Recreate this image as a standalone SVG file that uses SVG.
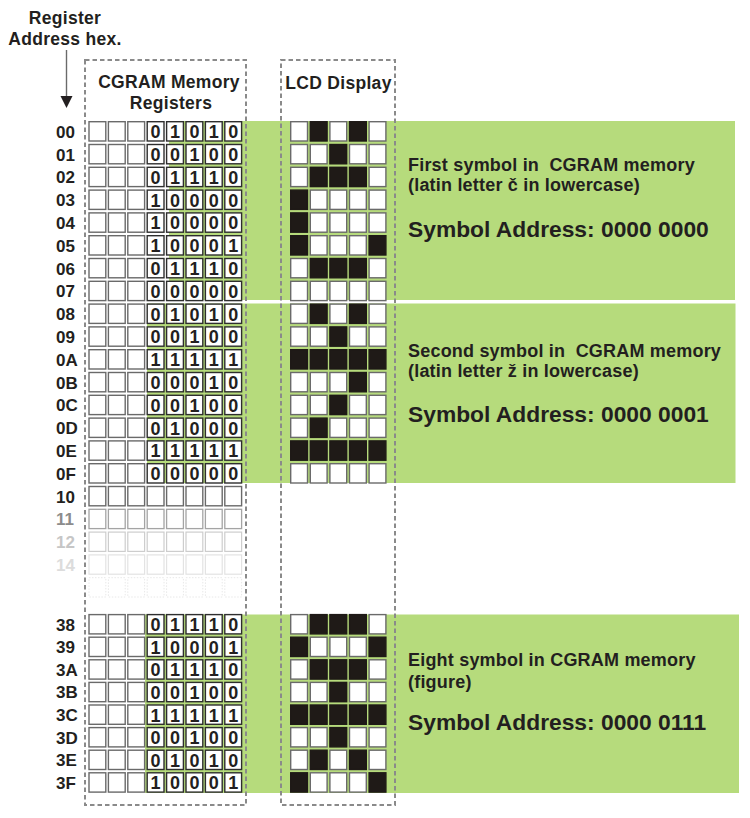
<svg xmlns="http://www.w3.org/2000/svg" width="750" height="818" viewBox="0 0 750 818">
<style>
text{font-family:"Liberation Sans",Arial,sans-serif;font-weight:bold;fill:#231f20}
.lb{font-size:17px}
.bit{font-size:18px;text-anchor:middle}
.hd{font-size:17.5px;text-anchor:middle;letter-spacing:0.3px}
.t1{font-size:18px;letter-spacing:0.2px}
.t2{font-size:22.8px}
.band{fill:#b6db7c}
.frame{fill:none;stroke:#8a8a8a;stroke-width:2;stroke-dasharray:4.5 3}
.e{fill:#fff;stroke:#6a6a6a;stroke-width:1.4}
.d{fill:#fff;stroke:#2e2e2e;stroke-width:1.4}
.w{fill:#fff;stroke:#6a6a6a;stroke-width:1.4}
.b{fill:#1f1a17;stroke:#1f1a17;stroke-width:1.4}
.f1{fill:#fff;stroke:#a4a4a4;stroke-width:1.3}
.f2{fill:#fff;stroke:#cdcdcd;stroke-width:1.2}
.f3{fill:#fff;stroke:#e3e3e3;stroke-width:1.2}
.f4{fill:none;stroke:#e8e8e8;stroke-width:1;stroke-dasharray:1.5 1.5}
</style>
<defs>
<rect id="c" width="16.8" height="19.3"/>
<g id="c3"><use href="#c" x="89"/><use href="#c" x="108.4"/><use href="#c" x="127.8"/></g>
<g id="c5"><use href="#c" x="147.2"/><use href="#c" x="166.6"/><use href="#c" x="186"/><use href="#c" x="205.4"/><use href="#c" x="224.8"/></g>
</defs>

<g id="bands">
<rect class="band" x="169" y="121" width="566" height="179"/>
<rect class="band" x="147" y="303.5" width="588.5" height="179.5"/>
<rect class="band" x="145" y="614.5" width="594" height="178.5"/>
</g>

<g id="frames">
<rect id="cgram-frame" class="frame" x="85" y="60" width="161" height="745"/>
<rect id="lcd-frame" class="frame" x="281" y="60" width="114" height="745"/>
</g>

<g id="headers">
<text class="hd" x="65" y="24">Register</text>
<text class="hd" x="65" y="45">Address hex.</text>
<text class="hd" x="169" y="88">CGRAM Memory</text>
<text class="hd" x="171" y="109">Registers</text>
<text class="hd" x="338.5" y="89">LCD Display</text>
</g>

<g id="connectors">
<line x1="66.5" y1="50" x2="66.5" y2="97" stroke="#6a6a6a" stroke-width="1.4"/>
<polygon points="60.5,96 72.5,96 66.5,108" fill="#231f20"/>
</g>

<g id="row-00" transform="translate(0,121.7)"><text class="lb" x="56" y="16">00</text><use href="#c3" class="e"/><use href="#c5" class="d"/><text class="bit" x="155.6 175 194.4 213.8 233.2" y="16.5">01010</text><use href="#c" class="w" x="290.7"/><use href="#c" class="b" x="310.3"/><use href="#c" class="w" x="329.9"/><use href="#c" class="b" x="349.5"/><use href="#c" class="w" x="369.1"/></g>
<g id="row-01" transform="translate(0,144.5)"><text class="lb" x="56" y="16">01</text><use href="#c3" class="e"/><use href="#c5" class="d"/><text class="bit" x="155.6 175 194.4 213.8 233.2" y="16.5">00100</text><use href="#c" class="w" x="290.7"/><use href="#c" class="w" x="310.3"/><use href="#c" class="b" x="329.9"/><use href="#c" class="w" x="349.5"/><use href="#c" class="w" x="369.1"/></g>
<g id="row-02" transform="translate(0,167.3)"><text class="lb" x="56" y="16">02</text><use href="#c3" class="e"/><use href="#c5" class="d"/><text class="bit" x="155.6 175 194.4 213.8 233.2" y="16.5">01110</text><use href="#c" class="w" x="290.7"/><use href="#c" class="b" x="310.3"/><use href="#c" class="b" x="329.9"/><use href="#c" class="b" x="349.5"/><use href="#c" class="w" x="369.1"/></g>
<g id="row-03" transform="translate(0,190.1)"><text class="lb" x="56" y="16">03</text><use href="#c3" class="e"/><use href="#c5" class="d"/><text class="bit" x="155.6 175 194.4 213.8 233.2" y="16.5">10000</text><use href="#c" class="b" x="290.7"/><use href="#c" class="w" x="310.3"/><use href="#c" class="w" x="329.9"/><use href="#c" class="w" x="349.5"/><use href="#c" class="w" x="369.1"/></g>
<g id="row-04" transform="translate(0,212.9)"><text class="lb" x="56" y="16">04</text><use href="#c3" class="e"/><use href="#c5" class="d"/><text class="bit" x="155.6 175 194.4 213.8 233.2" y="16.5">10000</text><use href="#c" class="b" x="290.7"/><use href="#c" class="w" x="310.3"/><use href="#c" class="w" x="329.9"/><use href="#c" class="w" x="349.5"/><use href="#c" class="w" x="369.1"/></g>
<g id="row-05" transform="translate(0,235.7)"><text class="lb" x="56" y="16">05</text><use href="#c3" class="e"/><use href="#c5" class="d"/><text class="bit" x="155.6 175 194.4 213.8 233.2" y="16.5">10001</text><use href="#c" class="b" x="290.7"/><use href="#c" class="w" x="310.3"/><use href="#c" class="w" x="329.9"/><use href="#c" class="w" x="349.5"/><use href="#c" class="b" x="369.1"/></g>
<g id="row-06" transform="translate(0,258.5)"><text class="lb" x="56" y="16">06</text><use href="#c3" class="e"/><use href="#c5" class="d"/><text class="bit" x="155.6 175 194.4 213.8 233.2" y="16.5">01110</text><use href="#c" class="w" x="290.7"/><use href="#c" class="b" x="310.3"/><use href="#c" class="b" x="329.9"/><use href="#c" class="b" x="349.5"/><use href="#c" class="w" x="369.1"/></g>
<g id="row-07" transform="translate(0,281.3)"><text class="lb" x="56" y="16">07</text><use href="#c3" class="e"/><use href="#c5" class="d"/><text class="bit" x="155.6 175 194.4 213.8 233.2" y="16.5">00000</text><use href="#c" class="w" x="290.7"/><use href="#c" class="w" x="310.3"/><use href="#c" class="w" x="329.9"/><use href="#c" class="w" x="349.5"/><use href="#c" class="w" x="369.1"/></g>

<g id="row-08" transform="translate(0,304.1)"><text class="lb" x="56" y="16">08</text><use href="#c3" class="e"/><use href="#c5" class="d"/><text class="bit" x="155.6 175 194.4 213.8 233.2" y="16.5">01010</text><use href="#c" class="w" x="290.7"/><use href="#c" class="b" x="310.3"/><use href="#c" class="w" x="329.9"/><use href="#c" class="b" x="349.5"/><use href="#c" class="w" x="369.1"/></g>
<g id="row-09" transform="translate(0,326.9)"><text class="lb" x="56" y="16">09</text><use href="#c3" class="e"/><use href="#c5" class="d"/><text class="bit" x="155.6 175 194.4 213.8 233.2" y="16.5">00100</text><use href="#c" class="w" x="290.7"/><use href="#c" class="w" x="310.3"/><use href="#c" class="b" x="329.9"/><use href="#c" class="w" x="349.5"/><use href="#c" class="w" x="369.1"/></g>
<g id="row-0A" transform="translate(0,349.7)"><text class="lb" x="56" y="16">0A</text><use href="#c3" class="e"/><use href="#c5" class="d"/><text class="bit" x="155.6 175 194.4 213.8 233.2" y="16.5">11111</text><use href="#c" class="b" x="290.7"/><use href="#c" class="b" x="310.3"/><use href="#c" class="b" x="329.9"/><use href="#c" class="b" x="349.5"/><use href="#c" class="b" x="369.1"/></g>
<g id="row-0B" transform="translate(0,372.5)"><text class="lb" x="56" y="16">0B</text><use href="#c3" class="e"/><use href="#c5" class="d"/><text class="bit" x="155.6 175 194.4 213.8 233.2" y="16.5">00010</text><use href="#c" class="w" x="290.7"/><use href="#c" class="w" x="310.3"/><use href="#c" class="w" x="329.9"/><use href="#c" class="b" x="349.5"/><use href="#c" class="w" x="369.1"/></g>
<g id="row-0C" transform="translate(0,395.3)"><text class="lb" x="56" y="16">0C</text><use href="#c3" class="e"/><use href="#c5" class="d"/><text class="bit" x="155.6 175 194.4 213.8 233.2" y="16.5">00100</text><use href="#c" class="w" x="290.7"/><use href="#c" class="w" x="310.3"/><use href="#c" class="b" x="329.9"/><use href="#c" class="w" x="349.5"/><use href="#c" class="w" x="369.1"/></g>
<g id="row-0D" transform="translate(0,418.1)"><text class="lb" x="56" y="16">0D</text><use href="#c3" class="e"/><use href="#c5" class="d"/><text class="bit" x="155.6 175 194.4 213.8 233.2" y="16.5">01000</text><use href="#c" class="w" x="290.7"/><use href="#c" class="b" x="310.3"/><use href="#c" class="w" x="329.9"/><use href="#c" class="w" x="349.5"/><use href="#c" class="w" x="369.1"/></g>
<g id="row-0E" transform="translate(0,440.9)"><text class="lb" x="56" y="16">0E</text><use href="#c3" class="e"/><use href="#c5" class="d"/><text class="bit" x="155.6 175 194.4 213.8 233.2" y="16.5">11111</text><use href="#c" class="b" x="290.7"/><use href="#c" class="b" x="310.3"/><use href="#c" class="b" x="329.9"/><use href="#c" class="b" x="349.5"/><use href="#c" class="b" x="369.1"/></g>
<g id="row-0F" transform="translate(0,463.7)"><text class="lb" x="56" y="16">0F</text><use href="#c3" class="e"/><use href="#c5" class="d"/><text class="bit" x="155.6 175 194.4 213.8 233.2" y="16.5">00000</text><use href="#c" class="w" x="290.7"/><use href="#c" class="w" x="310.3"/><use href="#c" class="w" x="329.9"/><use href="#c" class="w" x="349.5"/><use href="#c" class="w" x="369.1"/></g>

<g id="row-10" transform="translate(0,486.5)"><text class="lb" x="56" y="16">10</text><use href="#c3" class="e"/><use href="#c5" class="e"/></g>
<g id="row-11" transform="translate(0,509.3)"><text class="lb" x="56" y="16" style="fill:#8c8c8c">11</text><use href="#c3" class="f1"/><use href="#c5" class="f1"/></g>
<g id="row-12" transform="translate(0,532.1)"><text class="lb" x="56" y="16" style="fill:#c6c6c6">12</text><use href="#c3" class="f2"/><use href="#c5" class="f2"/></g>
<g id="row-14" transform="translate(0,554.9)"><text class="lb" x="56" y="16" style="fill:#dcdcdc">14</text><use href="#c3" class="f3"/><use href="#c5" class="f3"/></g>
<g id="row-fade" transform="translate(0,577.7)"><use href="#c3" class="f4"/><use href="#c5" class="f4"/></g>

<g id="row-38" transform="translate(0,614.6)"><text class="lb" x="56" y="16">38</text><use href="#c3" class="e"/><use href="#c5" class="d"/><text class="bit" x="155.6 175 194.4 213.8 233.2" y="16.5">01110</text><use href="#c" class="w" x="290.7"/><use href="#c" class="b" x="310.3"/><use href="#c" class="b" x="329.9"/><use href="#c" class="b" x="349.5"/><use href="#c" class="w" x="369.1"/></g>
<g id="row-39" transform="translate(0,637.2)"><text class="lb" x="56" y="16">39</text><use href="#c3" class="e"/><use href="#c5" class="d"/><text class="bit" x="155.6 175 194.4 213.8 233.2" y="16.5">10001</text><use href="#c" class="b" x="290.7"/><use href="#c" class="w" x="310.3"/><use href="#c" class="w" x="329.9"/><use href="#c" class="w" x="349.5"/><use href="#c" class="b" x="369.1"/></g>
<g id="row-3A" transform="translate(0,659.8)"><text class="lb" x="56" y="16">3A</text><use href="#c3" class="e"/><use href="#c5" class="d"/><text class="bit" x="155.6 175 194.4 213.8 233.2" y="16.5">01110</text><use href="#c" class="w" x="290.7"/><use href="#c" class="b" x="310.3"/><use href="#c" class="b" x="329.9"/><use href="#c" class="b" x="349.5"/><use href="#c" class="w" x="369.1"/></g>
<g id="row-3B" transform="translate(0,682.4)"><text class="lb" x="56" y="16">3B</text><use href="#c3" class="e"/><use href="#c5" class="d"/><text class="bit" x="155.6 175 194.4 213.8 233.2" y="16.5">00100</text><use href="#c" class="w" x="290.7"/><use href="#c" class="w" x="310.3"/><use href="#c" class="b" x="329.9"/><use href="#c" class="w" x="349.5"/><use href="#c" class="w" x="369.1"/></g>
<g id="row-3C" transform="translate(0,705)"><text class="lb" x="56" y="16">3C</text><use href="#c3" class="e"/><use href="#c5" class="d"/><text class="bit" x="155.6 175 194.4 213.8 233.2" y="16.5">11111</text><use href="#c" class="b" x="290.7"/><use href="#c" class="b" x="310.3"/><use href="#c" class="b" x="329.9"/><use href="#c" class="b" x="349.5"/><use href="#c" class="b" x="369.1"/></g>
<g id="row-3D" transform="translate(0,727.6)"><text class="lb" x="56" y="16">3D</text><use href="#c3" class="e"/><use href="#c5" class="d"/><text class="bit" x="155.6 175 194.4 213.8 233.2" y="16.5">00100</text><use href="#c" class="w" x="290.7"/><use href="#c" class="w" x="310.3"/><use href="#c" class="b" x="329.9"/><use href="#c" class="w" x="349.5"/><use href="#c" class="w" x="369.1"/></g>
<g id="row-3E" transform="translate(0,750.2)"><text class="lb" x="56" y="16">3E</text><use href="#c3" class="e"/><use href="#c5" class="d"/><text class="bit" x="155.6 175 194.4 213.8 233.2" y="16.5">01010</text><use href="#c" class="w" x="290.7"/><use href="#c" class="b" x="310.3"/><use href="#c" class="w" x="329.9"/><use href="#c" class="b" x="349.5"/><use href="#c" class="w" x="369.1"/></g>
<g id="row-3F" transform="translate(0,772.8)"><text class="lb" x="56" y="16">3F</text><use href="#c3" class="e"/><use href="#c5" class="d"/><text class="bit" x="155.6 175 194.4 213.8 233.2" y="16.5">10001</text><use href="#c" class="b" x="290.7"/><use href="#c" class="w" x="310.3"/><use href="#c" class="w" x="329.9"/><use href="#c" class="w" x="349.5"/><use href="#c" class="b" x="369.1"/></g>

<g id="symbol-1">
<text class="t1" x="408" y="171" xml:space="preserve">First symbol in  CGRAM memory</text>
<text class="t1" x="408" y="191">(latin letter č in lowercase)</text>
<text class="t2" x="408" y="237">Symbol Address: 0000 0000</text>
</g>
<g id="symbol-2">
<text class="t1" x="408" y="357" xml:space="preserve">Second symbol in  CGRAM memory</text>
<text class="t1" x="408" y="377">(latin letter ž in lowercase)</text>
<text class="t2" x="408" y="422">Symbol Address: 0000 0001</text>
</g>
<g id="symbol-8">
<text class="t1" x="408" y="666">Eight symbol in CGRAM memory</text>
<text class="t1" x="408" y="688">(figure)</text>
<text class="t2" x="408" y="730">Symbol Address: 0000 0111</text>
</g>
</svg>
